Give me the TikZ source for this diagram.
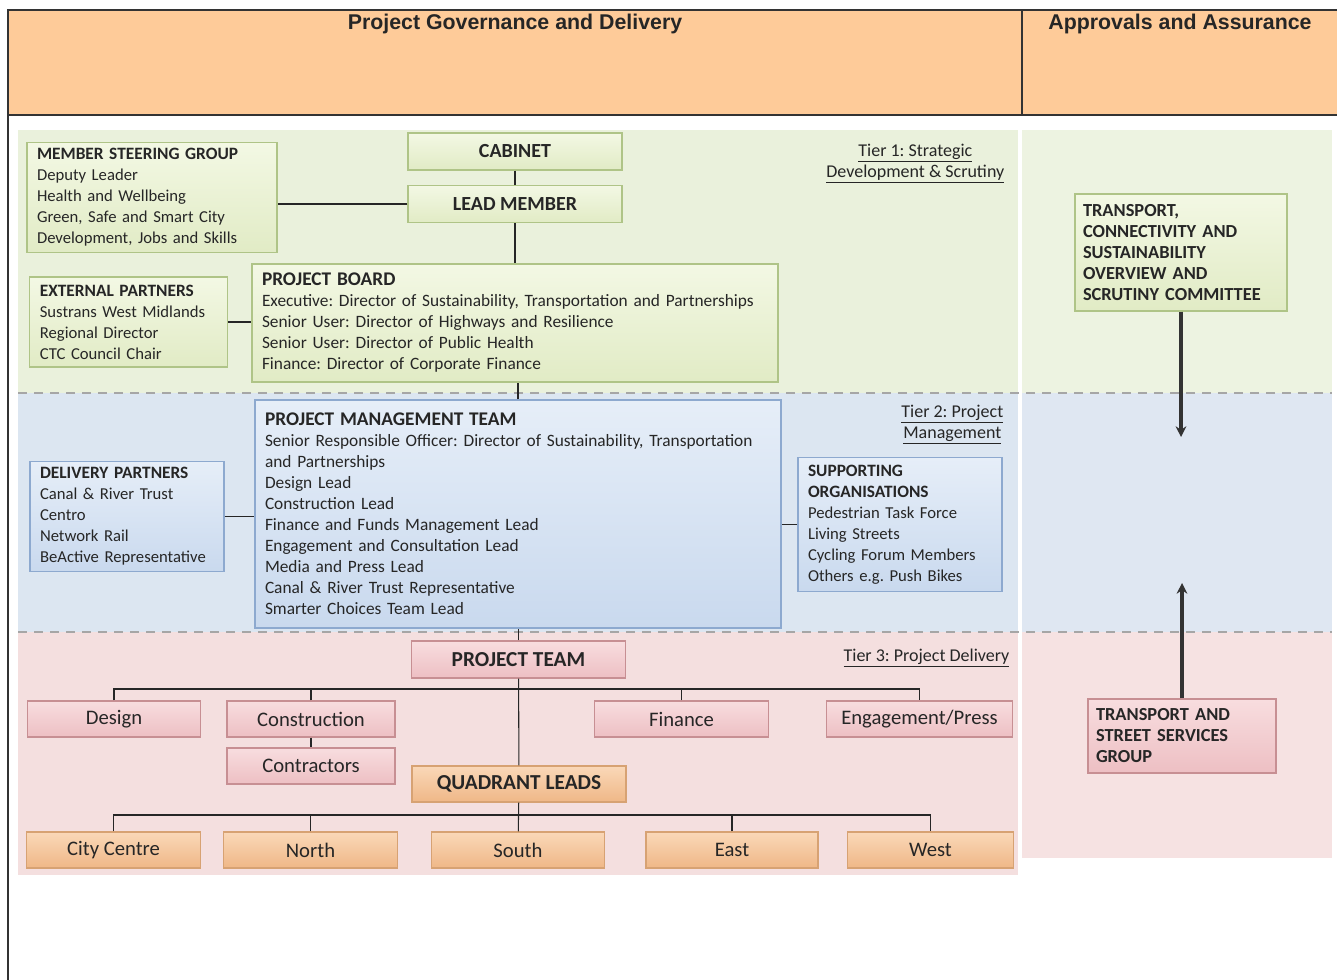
\documentclass[tikz,border=0pt]{standalone}
\usepackage{fontspec}
\setmainfont{Carlito}
\newfontfamily\hdfont{Liberation Sans}
\usetikzlibrary{positioning,arrows.meta}
\frenchspacing
\definecolor{hdr}{HTML}{FECB99}
\definecolor{tonebg}{HTML}{EAF1DC}
\definecolor{ttwobg}{HTML}{DCE6F1}
\definecolor{tthrbg}{HTML}{F4DFDF}
\definecolor{ronebg}{HTML}{EDF3E1}
\definecolor{rtwobg}{HTML}{DFE7F2}
\definecolor{rthrbg}{HTML}{F6E2E2}
\definecolor{grnline}{HTML}{AFC487}
\definecolor{grntop}{HTML}{F3F8E4}
\definecolor{grnbot}{HTML}{E1EBC5}
\definecolor{bluline}{HTML}{8DA9CF}
\definecolor{blutop}{HTML}{E6EEF8}
\definecolor{blubot}{HTML}{C9D9EE}
\definecolor{pnkline}{HTML}{C78F93}
\definecolor{pnktop}{HTML}{F8DDDF}
\definecolor{pnkbot}{HTML}{EDBFC3}
\definecolor{orgline}{HTML}{D7A273}
\definecolor{orgtop}{HTML}{FAD8B8}
\definecolor{orgbot}{HTML}{EFB787}
\begin{document}
\begin{tikzpicture}[x=0.75pt,y=-0.75pt,on grid,>=Stealth,
    every node/.style={text=black!85},
    boxbase/.style={draw,line width=0.9pt,inner xsep=7.5pt,inner ysep=2pt},
    grn/.style={boxbase,draw=grnline,top color=grntop,bottom color=grnbot},
    blu/.style={boxbase,draw=bluline,top color=blutop,bottom color=blubot},
    pnk/.style={boxbase,draw=pnkline,top color=pnktop,bottom color=pnkbot},
    org/.style={boxbase,draw=orgline,top color=orgtop,bottom color=orgbot},
    lft/.style={align=left,font=\fontsize{12.5}{15.75}\selectfont},
    big/.style={align=left,font=\fontsize{13}{15.75}\selectfont},
    ctr/.style={align=center,font=\fontsize{15.5}{18}\selectfont},
    hvy/.style={align=center,font=\fontsize{15.5}{18}\selectfont\bfseries},
    caps/.style={align=left,inner xsep=6pt,font=\fontsize{13.8}{15.75}\selectfont\bfseries},
    sml/.style={minimum width=130pt,minimum height=27pt},
    tier/.style={anchor=north east,align=center,font=\fontsize{13.5}{15.75}\selectfont},
    link/.style={draw=black!85,line width=0.8pt},
    up/.style={draw=black!80,line width=2.8pt,-{Stealth[length=8pt,width=8pt]}}]
\useasboundingbox (0,0) rectangle (1337,980);

% table head
\fill[hdr] (8,10) rectangle (1337,115);
\draw[line width=1.1pt,black!80] (1337,10) -- (8,10) -- (8,980);
\draw[line width=1.1pt,black!80] (8,115) -- (1337,115);
\draw[line width=1.1pt,black!80] (1022,10) -- (1022,115);
\node[font=\hdfont\bfseries\fontsize{16}{18}\selectfont] (hgov) at (515,24) {Project Governance and Delivery};
\node[font=\hdfont\bfseries\fontsize{16}{18}\selectfont] (happ) at (1180,24) {Approvals and Assurance};

% tier bands
\fill[tonebg] (18,130) rectangle (1018,393);
\fill[ttwobg] (18,393) rectangle (1018,632);
\fill[tthrbg] (18,632) rectangle (1018,875);
\fill[ronebg] (1022,130) rectangle (1332,393);
\fill[rtwobg] (1022,393) rectangle (1332,632);
\fill[rthrbg] (1022,632) rectangle (1332,858);
\draw[black!35,line width=1.2pt,dash pattern=on 7pt off 5pt] (18,393) -- (1332,393);
\draw[black!35,line width=1.2pt,dash pattern=on 7pt off 5pt] (18,632) -- (1332,632);

\node[tier] (tone) at (1009,139) {\underline{Tier 1: Strategic}\\\underline{Development \& Scrutiny}};
\node[tier] (ttwo) at (1008,400) {\underline{Tier 2: Project}\\\underline{Management}};
\node[tier] (tthr) at (1014,644) {\underline{Tier 3: Project Delivery}};

% tier 1
\node[grn,hvy,font=\fontsize{15}{18}\selectfont\bfseries,minimum width=160.5pt,minimum height=27.75pt] (cab) at (515,151.5) {CABINET};
\node[grn,hvy,font=\fontsize{15}{18}\selectfont\bfseries,minimum width=160.5pt,minimum height=27.75pt,below=39.4pt of cab] (lm) {LEAD MEMBER};
\node[grn,lft,text width=172.5pt,minimum height=83pt] (msg) at (152,197.5)
    {{\fontsize{13}{15.75}\selectfont\bfseries MEMBER STEERING GROUP}\\Deputy Leader\\Health and Wellbeing\\Green, Safe and Smart City\\Development, Jobs and Skills};
\node[grn,lft,text width=133pt,minimum height=67.5pt] (ext) at (128.5,322)
    {{\fontsize{13}{15.75}\selectfont\bfseries EXTERNAL PARTNERS}\\Sustrans West Midlands\\Regional Director\\CTC Council Chair};
\node[grn,big,text width=379.5pt,minimum height=88.5pt] (pb) at (515,323)
    {{\fontsize{14.5}{16}\selectfont\bfseries PROJECT BOARD}\\Executive: Director of Sustainability, Transportation and Partnerships\\Senior User: Director of Highways and Resilience\\Senior User: Director of Public Health\\Finance: Director of Corporate Finance};

% tier 2
\node[blu,big,text width=379.5pt,minimum height=171pt] (pmt) at (518,514)
    {{\fontsize{14.5}{16}\selectfont\bfseries PROJECT MANAGEMENT TEAM}\\Senior Responsible Officer: Director of Sustainability, Transportation\\and Partnerships\\Design Lead\\Construction Lead\\Finance and Funds Management Lead\\Engagement and Consultation Lead\\Media and Press Lead\\Canal \& River Trust Representative\\Smarter Choices Team Lead};
\node[blu,lft,text width=130.5pt,minimum height=83pt] (dp) at (127,516.5)
    {{\fontsize{13}{15.75}\selectfont\bfseries DELIVERY PARTNERS}\\Canal \& River Trust\\Centro\\Network Rail\\BeActive Representative};
\node[blu,lft,text width=138pt,minimum height=100pt] (so) at (900,524.5)
    {{\fontsize{13}{15.75}\selectfont\bfseries SUPPORTING}\\{\fontsize{13}{15.75}\selectfont\bfseries ORGANISATIONS}\\Pedestrian Task Force\\Living Streets\\Cycling Forum Members\\Others e.g. Push Bikes};

% tier 3
\node[pnk,hvy,font=\fontsize{16}{18}\selectfont\bfseries,minimum width=161pt,minimum height=27.75pt] (pt) at (518.5,659.5) {PROJECT TEAM};
\node[pnk,ctr,sml] (design) at (114,719) {Design};
\node[pnk,ctr,sml,minimum width=126pt] (constr) at (311,719) {Construction};
\node[pnk,ctr,sml,minimum width=126pt,below=35.25pt of constr] (contr) {Contractors};
\node[pnk,ctr,sml] (fin) at (681.5,719) {Finance};
\node[pnk,ctr,sml,minimum width=140pt] (eng) at (919.5,719) {Engagement/Press};
\node[org,hvy,font=\fontsize{16}{18}\selectfont\bfseries,minimum width=160.5pt,minimum height=27pt] (ql) at (519,784) {QUADRANT LEADS};
\node[org,ctr,sml] (cc) at (113.5,850) {City Centre};
\node[org,ctr,sml] (nth) at (310.5,850) {North};
\node[org,ctr,sml] (sth) at (518,850) {South};
\node[org,ctr,sml,minimum width=129pt] (est) at (732,850) {East};
\node[org,ctr,sml,minimum width=125pt] (wst) at (930.5,850) {West};

% approvals column
\node[grn,caps,text width=147pt,minimum height=87.75pt] (tcs) at (1181,252.5)
    {TRANSPORT,\\CONNECTIVITY AND\\SUSTAINABILITY\\OVERVIEW AND\\SCRUTINY COMMITTEE};
\node[pnk,caps,text width=129pt,minimum height=55.5pt] (tssg) at (1182,736)
    {TRANSPORT AND\\STREET SERVICES\\GROUP};

% links
\path[link] (cab) edge (lm)
            (lm) edge (pb)
            (pt) edge (ql)
            (constr) edge (contr)
            (ql) edge (sth);
\draw[link] (lm.west) -- (lm.west -| msg.east);
\draw[link] (ext.east) -- (ext.east -| pb.west);
\draw[link] (pmt.north) -- (pmt.north |- pb.south);
\draw[link] (dp.east) -- (dp.east -| pmt.west);
\draw[link] (so.west) -- (so.west -| pmt.east);
\draw[link] (pt.north) -- (pt.north |- pmt.south);
\coordinate (busa) at (519,689);
\draw[link] (design.north) |- (busa) -| (eng.north);
\draw[link] (constr.north) -- (constr.north |- busa);
\draw[link] (fin.north) -- (fin.north |- busa);
\coordinate (busb) at (519,815);
\draw[link] (cc.north) |- (busb) -| (wst.north);
\draw[link] (nth.north) -- (nth.north |- busb);
\draw[link] (est.north) -- (est.north |- busb);

% approvals arrows
\coordinate (tipa) at (1184,437);
\coordinate (tipb) at (1181,583);
\draw[up] (tcs.south) -- (tcs.south |- tipa);
\draw[up] (tssg.north) -- (tssg.north |- tipb);
\end{tikzpicture}
\end{document}
